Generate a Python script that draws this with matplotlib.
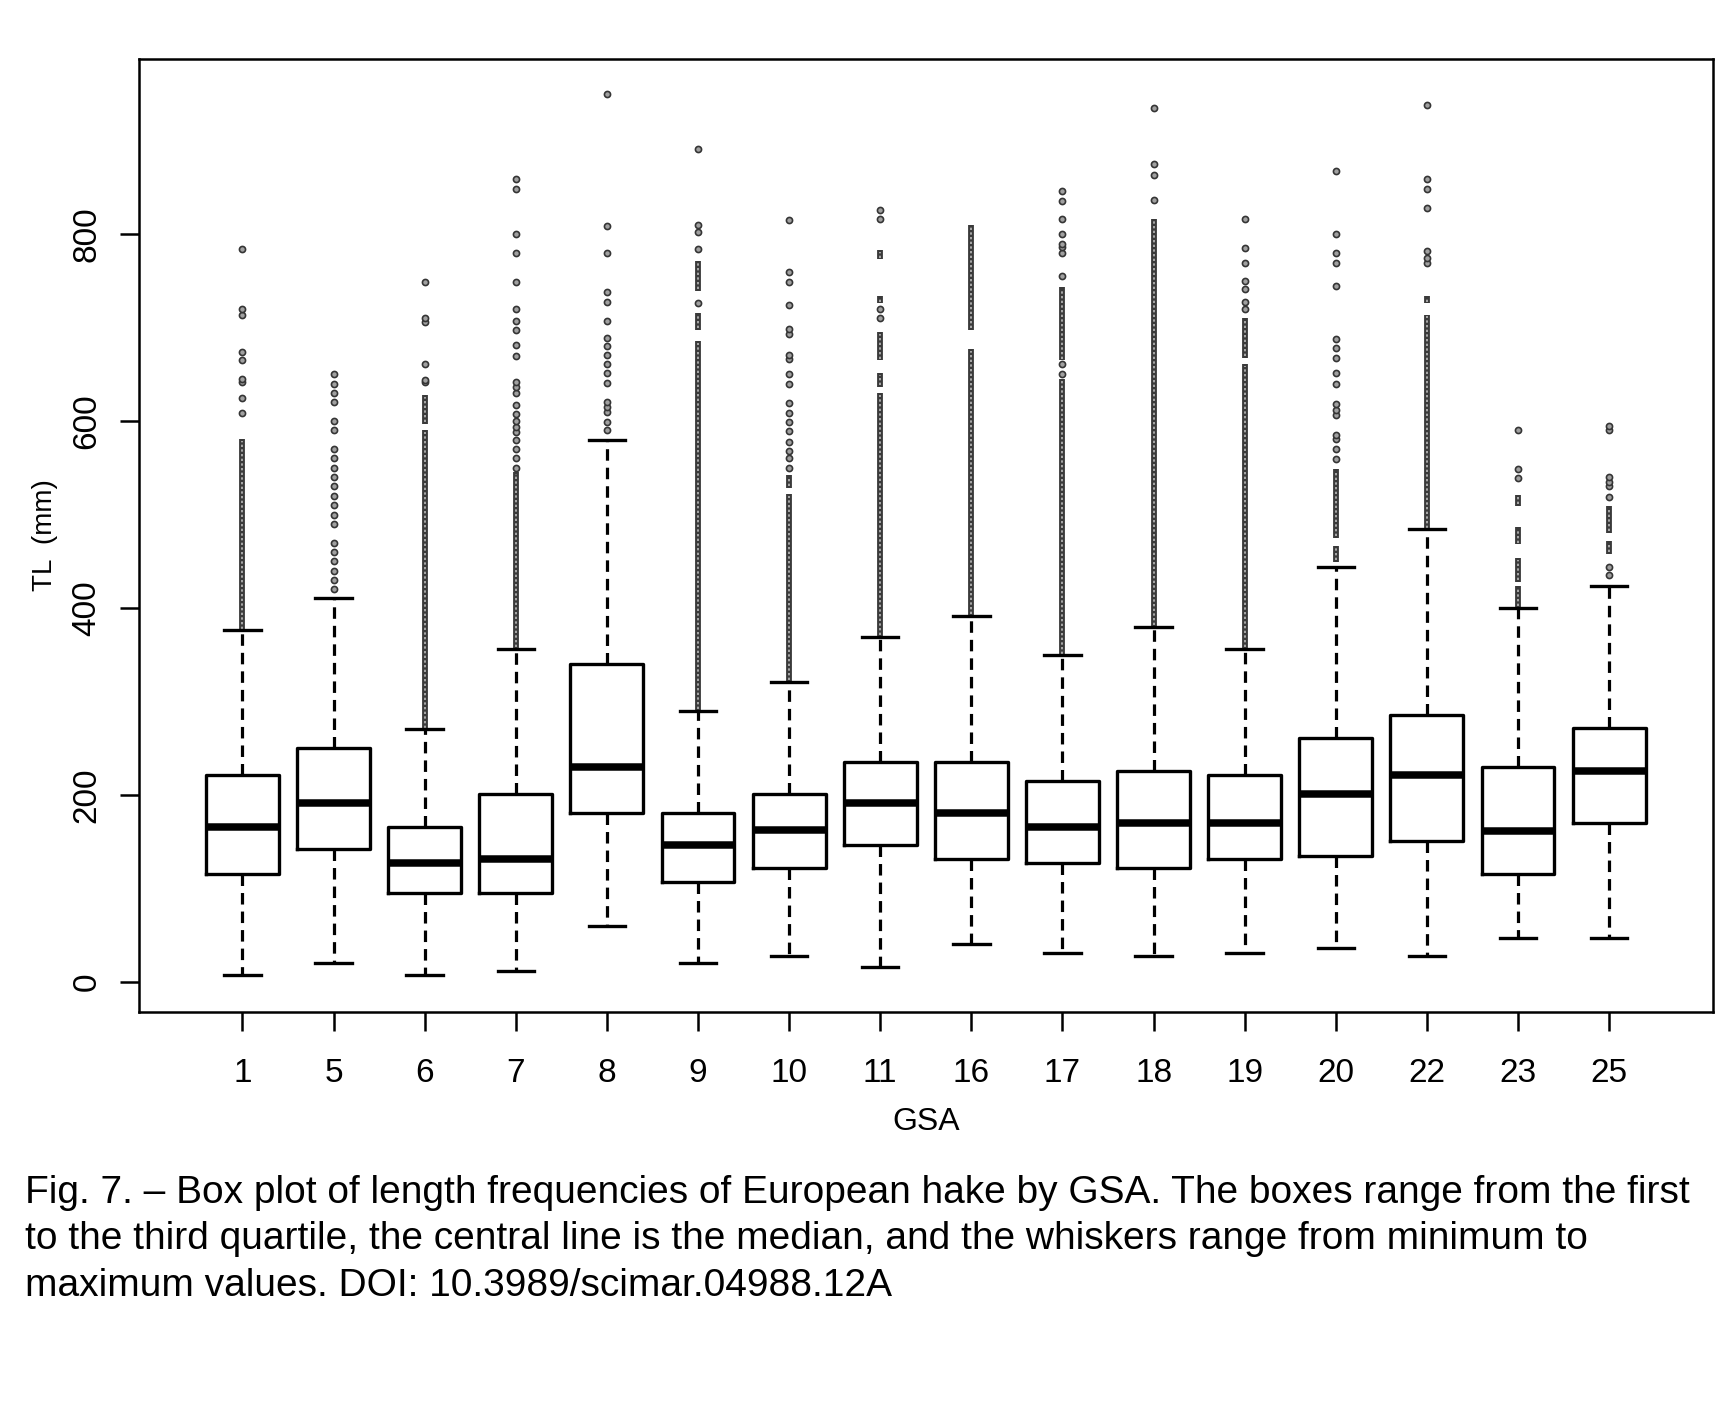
import matplotlib
matplotlib.use('Agg')
from matplotlib import pyplot as plt

plt.rcParams['font.family'] = ['Liberation Sans', 'DejaVu Sans']

# GSA groups and box statistics (TL in mm)
gsa = ['1', '5', '6', '7', '8', '9', '10', '11', '16', '17', '18', '19', '20', '22', '23', '25']
whisk_lo = [7, 20, 7, 11, 60, 20, 27, 16, 40, 31, 27, 31, 36, 27, 47, 47]
q1 = [115, 142, 95, 95, 181, 107, 122, 146, 131, 127, 122, 131, 135, 151, 115, 170]
med = [166, 191, 127, 131, 230, 146, 162, 191, 181, 166, 170, 170, 201, 221, 161, 226]
q3 = [221, 250, 166, 201, 340, 181, 201, 235, 235, 215, 226, 221, 261, 285, 230, 272]
whisk_hi = [376, 411, 270, 356, 580, 290, 321, 369, 391, 350, 380, 356, 444, 484, 400, 424]

# stretches where outliers are so packed they form a continuous chain (lo, hi)
dense_runs = [
    [(376, 581)],
    [],
    [(270, 590), (597, 628)],
    [(356, 545)],
    [],
    [(290, 686), (698, 716), (739, 771)],
    [(321, 522), (528, 542)],
    [(369, 630), (637, 651), (665, 695), (726, 734), (773, 783)],
    [(391, 677), (698, 810)],
    [(349, 645), (665, 743)],
    [(380, 816)],
    [(356, 661), (668, 710)],
    [(449, 466), (475, 549)],
    [(484, 714), (726, 734)],
    [(400, 423), (428, 453), (468, 487), (509, 521)],
    [(458, 472), (480, 509)],
]

# isolated outliers
outliers = [
    [609, 625, 642, 645, 665, 674, 714, 720, 784],
    [420, 430, 440, 450, 460, 470, 490, 500, 510, 520, 530, 540, 550, 560, 570,
     590, 600, 620, 630, 640, 650],
    [642, 644, 661, 706, 710, 749],
    [550, 560, 570, 580, 588, 594, 600, 608, 617, 630, 636, 642, 670, 681, 698,
     707, 720, 749, 780, 800, 848, 859],
    [590, 599, 610, 615, 620, 641, 651, 661, 671, 680, 689, 707, 727, 738, 780,
     809, 950],
    [726, 784, 802, 810, 891],
    [550, 560, 568, 578, 589, 599, 609, 619, 640, 650, 666, 671, 693, 699, 724,
     749, 760, 815],
    [710, 720, 816, 826],
    [],
    [650, 661, 755, 780, 786, 790, 800, 816, 836, 846],
    [837, 863, 875, 935],
    [720, 727, 741, 750, 769, 785, 816],
    [559, 570, 581, 585, 606, 612, 618, 640, 651, 668, 678, 688, 745, 769, 780,
     800, 868],
    [769, 775, 782, 828, 848, 859, 938],
    [539, 549, 590],
    [435, 444, 519, 530, 535, 540, 590, 595],
]

caption = [
    'Fig. 7. \u2013 Box plot of length frequencies of European hake by GSA. The boxes range from the first',
    'to the third quartile, the central line is the median, and the whiskers range from minimum to',
    'maximum values. DOI: 10.3989/scimar.04988.12A',
]

positions = list(range(1, len(gsa) + 1))
stats = []
for i in range(len(gsa)):
    stats.append({'whislo': whisk_lo[i], 'q1': q1[i], 'med': med[i],
                  'q3': q3[i], 'whishi': whisk_hi[i], 'fliers': outliers[i]})

fig = plt.figure(figsize=(17.32, 14.04), dpi=100)
ax = fig.add_axes([0.0800, 0.27885, 0.90903, 0.67941])

# packed outlier chains: dark band with a lighter dotted core (overlapping rings)
for i, runs in enumerate(dense_runs):
    for lo, hi in runs:
        ax.vlines(positions[i], lo, hi, colors='#3a3a3a', linewidth=4.2, zorder=2)
        ax.vlines(positions[i], lo + 2, hi - 2, colors='#a8a8a8', linewidth=1.4,
                  linestyles=(0, (1.2, 1.2)), zorder=2.1)

ax.bxp(stats, positions=positions, widths=0.8, capwidths=0.4,
       boxprops=dict(color='black', linewidth=2.4),
       whiskerprops=dict(color='black', linewidth=2.3, linestyle=(0, (3.6, 2.2))),
       capprops=dict(color='black', linewidth=2.4),
       medianprops=dict(color='black', linewidth=5.4, solid_capstyle='butt'),
       flierprops=dict(marker='o', markersize=4.4, markerfacecolor='#a0a0a0',
                       markeredgecolor='#353535', markeredgewidth=1.2),
       zorder=3)

ax.set_xlim(-0.14, 17.14)
ax.set_ylim(-33, 988)
ax.set_xticks(positions)
ax.set_xticklabels(gsa)
ax.set_yticks([0, 200, 400, 600, 800])
ax.set_yticklabels(['0', '200', '400', '600', '800'], rotation=90, va='center')

for side in ax.spines.values():
    side.set_linewidth(1.8)
ax.tick_params(axis='both', direction='out', length=14, width=1.8, labelsize=24)
ax.tick_params(axis='x', pad=19)
ax.tick_params(axis='y', pad=12)

fig.text(45 / 1732, 1 - 535 / 1404, 'TL  (mm)', rotation=90,
         ha='center', va='center', fontsize=20)
fig.text(925.8 / 1732, 1 - 1122 / 1404, 'GSA', ha='center', va='center', fontsize=23)

baselines = [1202.7, 1249.3, 1296.0]
for line, yb in zip(caption, baselines):
    fig.text(25 / 1732, 1 - yb / 1404, line, ha='left', va='baseline', fontsize=28)

fig.savefig('out.png', dpi=100)
